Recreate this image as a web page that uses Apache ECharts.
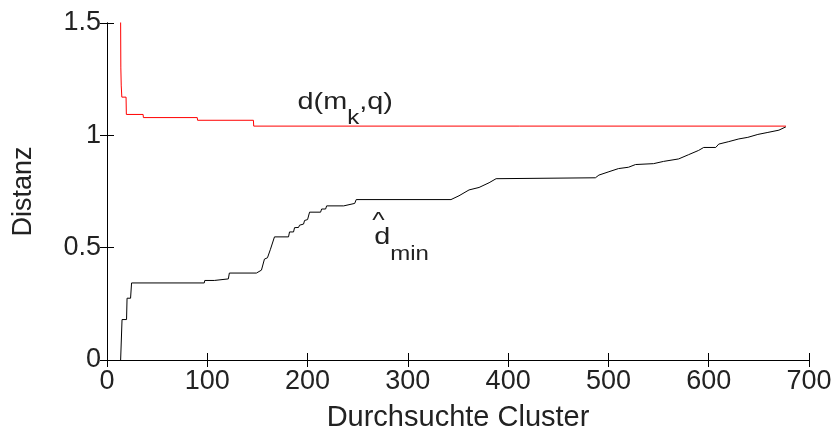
<!DOCTYPE html>
<html>
<head>
<meta charset="utf-8">
<script src="https://cdn.jsdelivr.net/npm/echarts@6/dist/echarts.min.js"></script>
<style>html,body{margin:0;padding:0;background:#fff}#c{width:835px;height:437px}</style>
</head>
<body>
<div id="c"></div>
<script>
// x values in "Durchsuchte Cluster", y values in "Distanz"
const redX = [13.5, 13.6, 13.8, 14.2, 14.8, 19, 19.3, 36, 36.3, 90, 90.3, 146, 146.3, 677];
const redY = [1.8, 1.5, 1.3, 1.22, 1.17, 1.17, 1.093, 1.093, 1.079, 1.079, 1.067, 1.067, 1.041, 1.041];

const blackX = [13.6, 15, 19.5, 20, 23.5, 24.5, 97, 97.5, 107, 107.5, 121, 122, 149, 150, 154, 157, 160, 163, 164, 167, 181, 182, 186, 187, 191, 192, 196, 197, 200, 202, 213, 214, 218, 219, 236, 237, 247, 248.5, 343, 351, 361, 371, 381, 388, 389, 487, 490.5, 500.5, 510, 520, 527, 545, 555, 570, 580, 590, 595, 607, 610, 620, 630, 639, 649, 659, 670, 677];
const blackY = [0, 0.18, 0.18, 0.275, 0.275, 0.343, 0.343, 0.354, 0.354, 0.361, 0.361, 0.387, 0.387, 0.395, 0.4, 0.449, 0.455, 0.493, 0.5, 0.548, 0.548, 0.57, 0.57, 0.589, 0.59, 0.6, 0.605, 0.621, 0.625, 0.658, 0.658, 0.672, 0.672, 0.686, 0.686, 0.694, 0.697, 0.714, 0.714, 0.731, 0.757, 0.768, 0.789, 0.807, 0.811, 0.811, 0.823, 0.838, 0.852, 0.858, 0.870, 0.874, 0.884, 0.895, 0.914, 0.933, 0.946, 0.946, 0.961, 0.972, 0.984, 0.991, 1.004, 1.013, 1.023, 1.038];

const xTicks = [0, 100, 200, 300, 400, 500, 600, 700];
const yTicks = [0, 0.5, 1, 1.5];

const xTitle = 'Durchsuchte Cluster';
const yTitle = 'Distanz';

// annotation anchors (data coords: left edge, baseline)
const annoRed = {x: 190, y: 1.114, main1: 'd(m', sub: 'k', main2: ',q)'};
const annoBlack = {x: 266.5, y: 0.513, main: 'd', hat: '^', sub: 'min'};

const FONT = 'Liberation Sans, Arial, Helvetica, sans-serif';
const TXT = '#222';

const chart = echarts.init(document.getElementById('c'), null, {renderer: 'canvas'});

function zip(xs, ys) { return xs.map((v, i) => [v, ys[i]]); }

const axisCommon = {
  type: 'value', min: 0,
  axisLine: {show: true, lineStyle: {color: '#000', width: 1}},
  axisTick: {show: true, inside: true, length: 7, lineStyle: {color: '#000', width: 1}},
  splitLine: {show: false}
};

chart.setOption({
  animation: false,
  backgroundColor: '#fff',
  grid: {left: 107, right: 26, top: 23, bottom: 72, containLabel: false},
  xAxis: [
    Object.assign({}, axisCommon, {
      max: 700, interval: 100, position: 'bottom',
      axisLabel: {show: true, color: TXT, fontSize: 27, fontFamily: FONT, margin: 8,
        formatter: v => xTicks.includes(v) ? String(v) : ''},
      name: xTitle, nameLocation: 'middle', nameGap: 43,
      nameTextStyle: {color: TXT, fontSize: 29, fontFamily: FONT}
    }),
    Object.assign({}, axisCommon, {
      max: 700, interval: 100, position: 'top', axisLabel: {show: false}
    })
  ],
  yAxis: [
    Object.assign({}, axisCommon, {
      max: 1.5, interval: 0.5, position: 'left',
      axisLabel: {show: true, color: TXT, fontSize: 27, fontFamily: FONT, margin: 6,
        formatter: v => yTicks.includes(v) ? String(v) : ''},
      name: yTitle, nameLocation: 'middle', nameGap: 70, nameRotate: 90,
      nameTextStyle: {color: TXT, fontSize: 27, fontFamily: FONT}
    }),
    Object.assign({}, axisCommon, {
      max: 1.5, interval: 0.5, position: 'right', axisLabel: {show: false}
    })
  ],
  series: [
    {type: 'line', data: zip(blackX, blackY), showSymbol: false, symbol: 'none',
      lineStyle: {color: '#000', width: 1}, clip: true, z: 2},
    {type: 'line', data: zip(redX, redY), showSymbol: false, symbol: 'none',
      lineStyle: {color: '#ff0000', width: 1}, clip: true, z: 3}
  ]
});

// annotations placed from data coordinates
const ctx = document.createElement('canvas').getContext('2d');
function w(text, size) { ctx.font = size + 'px ' + FONT; return ctx.measureText(text).width; }

const MAIN = 24, SUB = 20, SX = 1.2;
const p1 = chart.convertToPixel({xAxisIndex: 0, yAxisIndex: 0}, [annoRed.x, annoRed.y]);
const p2 = chart.convertToPixel({xAxisIndex: 0, yAxisIndex: 0}, [annoBlack.x, annoBlack.y]);

function tb(x, baseY, text, size) {
  return {type: 'text', x: x, y: baseY + size * 0.21, scaleX: SX, silent: true,
    style: {text: text, fill: TXT, fontSize: size, fontFamily: FONT, verticalAlign: 'bottom', align: 'left'}};
}

const w1 = w(annoRed.main1, MAIN) * SX;
const wk = w(annoRed.sub, SUB) * SX;

chart.setOption({
  graphic: [
    tb(p1[0], p1[1], annoRed.main1, MAIN),
    tb(p1[0] + w1, p1[1] + 15, annoRed.sub, SUB),
    tb(p1[0] + w1 + wk, p1[1], annoRed.main2, MAIN),
    tb(p2[0], p2[1], annoBlack.main, MAIN),
    tb(p2[0] - 2, p2[1] - 17, annoBlack.hat, 22),
    tb(p2[0] + 16, p2[1] + 16, annoBlack.sub, SUB)
  ]
});
</script>
</body>
</html>
